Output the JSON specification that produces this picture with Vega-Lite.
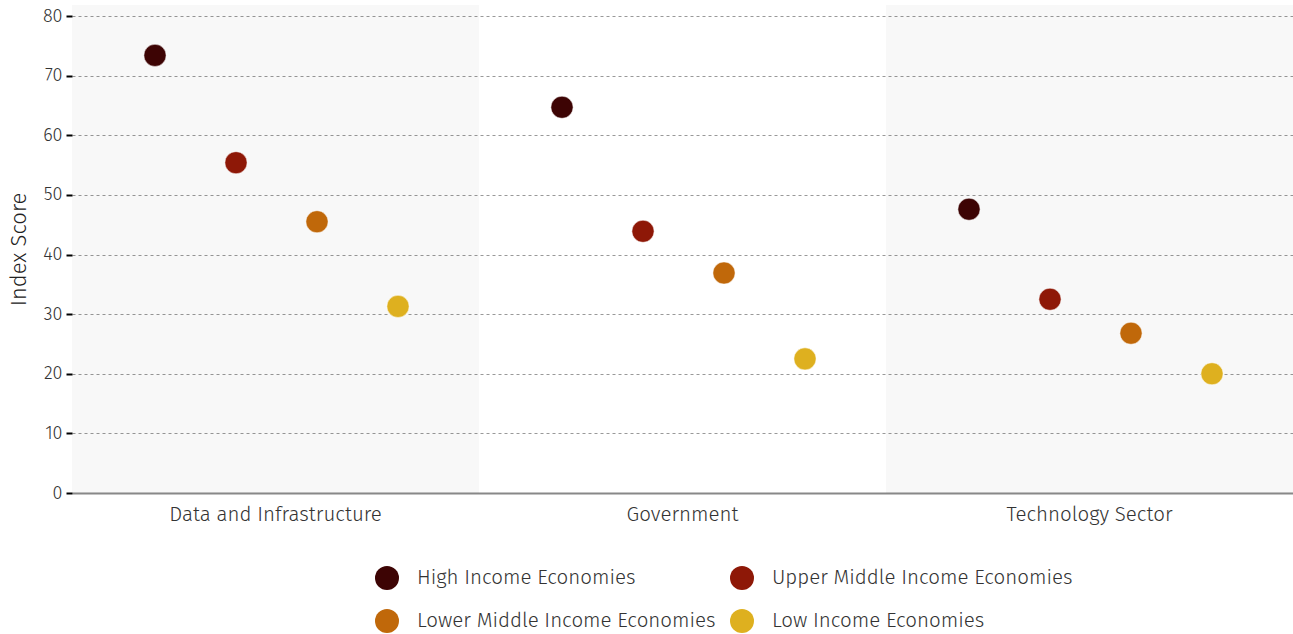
{
  "$schema": "https://vega.github.io/schema/vega-lite/v6.json",
  "width": 1221,
  "height": 488,
  "autosize": {"type": "none"},
  "padding": {"left": 72, "top": 5, "right": 0, "bottom": 141},
  "config": {
    "font": "Fira Sans, Open Sans",
    "view": {"stroke": null}
  },
  "data": {
    "values": [
      {"sector": "Data and Infrastructure", "income": "High Income Economies", "score": 73.4},
      {"sector": "Data and Infrastructure", "income": "Upper Middle Income Economies", "score": 55.4},
      {"sector": "Data and Infrastructure", "income": "Lower Middle Income Economies", "score": 45.5},
      {"sector": "Data and Infrastructure", "income": "Low Income Economies", "score": 31.3},
      {"sector": "Government", "income": "High Income Economies", "score": 64.7},
      {"sector": "Government", "income": "Upper Middle Income Economies", "score": 43.9},
      {"sector": "Government", "income": "Lower Middle Income Economies", "score": 36.9},
      {"sector": "Government", "income": "Low Income Economies", "score": 22.5},
      {"sector": "Technology Sector", "income": "High Income Economies", "score": 47.6},
      {"sector": "Technology Sector", "income": "Upper Middle Income Economies", "score": 32.5},
      {"sector": "Technology Sector", "income": "Lower Middle Income Economies", "score": 26.8},
      {"sector": "Technology Sector", "income": "Low Income Economies", "score": 20.0}
    ]
  },
  "encoding": {
    "x": {
      "field": "sector",
      "type": "nominal",
      "scale": {"type": "band", "paddingInner": 0, "paddingOuter": 0},
      "axis": {
        "title": null,
        "labelAngle": 0,
        "ticks": false,
        "domainColor": "#888888",
        "domainWidth": 2,
        "labelFontSize": 20.5,
        "labelFontWeight": 300,
        "labelColor": "#333333",
        "labelPadding": 11,
        "labelLimit": 500,
        "grid": false
      }
    }
  },
  "layer": [
    {
      "transform": [{"filter": "datum.income === 'High Income Economies'"}],
      "mark": {"type": "bar"},
      "encoding": {
        "y": {"datum": 81.85, "type": "quantitative"},
        "size": {"value": 407},
        "fill": {"value": "#000000"},
        "fillOpacity": {
          "condition": {"test": "datum.sector !== 'Government'", "value": 0.028},
          "value": 0
        }
      }
    },
    {
      "mark": {"type": "circle", "opacity": 1, "stroke": "#ffffff", "strokeWidth": 0.5},
      "encoding": {
        "xOffset": {
          "field": "income",
          "type": "nominal",
          "sort": ["High Income Economies", "Upper Middle Income Economies", "Lower Middle Income Economies", "Low Income Economies"],
          "scale": {"range": [42.5, 366.5]}
        },
        "y": {
          "field": "score",
          "type": "quantitative",
          "scale": {"domain": [0, 81.85], "nice": false, "zero": true},
          "axis": {
            "values": [0, 10, 20, 30, 40, 50, 60, 70, 80],
            "title": "Index Score",
            "titleFontSize": 22,
            "titleFontWeight": 300,
            "titleColor": "#222222",
            "titlePadding": 12,
            "labelFontSize": 18,
            "labelFontWeight": 300,
            "labelColor": "#333333",
            "labelPadding": 4,
            "domain": false,
            "tickColor": "#000000",
            "tickWidth": 2,
            "tickSize": 6,
            "grid": true,
            "gridColor": "#999999",
            "gridDash": [3, 3],
            "gridWidth": 1
          }
        },
        "size": {"value": 490},
        "color": {
          "field": "income",
          "type": "nominal",
          "scale": {
            "domain": ["High Income Economies", "Upper Middle Income Economies", "Lower Middle Income Economies", "Low Income Economies"],
            "range": ["#3d0404", "#8e1807", "#c0680a", "#deb01f"]
          },
          "legend": {
            "orient": "none",
            "direction": "horizontal",
            "legendX": 303,
            "legendY": 561,
            "columns": 2,
            "title": null,
            "symbolType": "circle",
            "symbolSize": 576,
            "symbolOpacity": 1,
            "symbolStrokeWidth": 0,
            "labelFontSize": 20.5,
            "labelFontWeight": 300,
            "labelColor": "#333333",
            "labelOffset": 18,
            "rowPadding": 19,
            "columnPadding": 14,
            "labelLimit": 500,
            "padding": 0
          }
        }
      }
    }
  ]
}
